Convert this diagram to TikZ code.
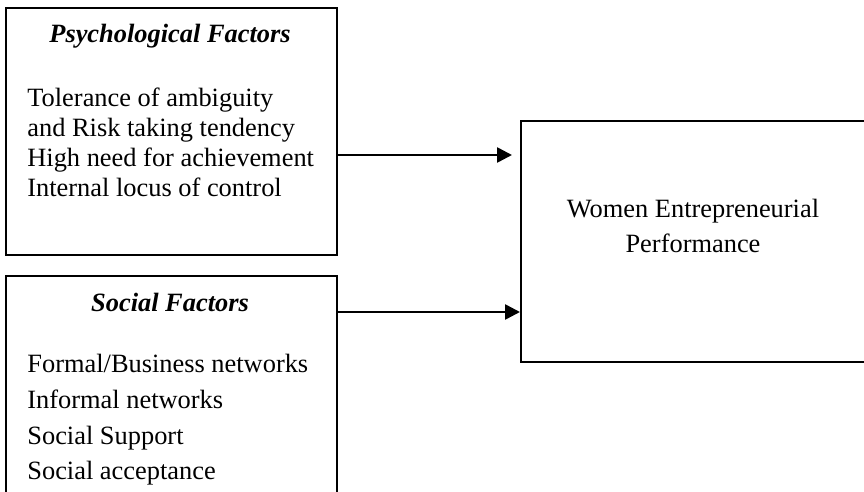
\documentclass[tikz,border=0pt]{standalone}
\usepackage{fontspec}
\setmainfont{Liberation Serif}
\usetikzlibrary{arrows.meta}
\tikzset{
  box/.style={draw, line width=1pt, inner sep=0pt, fill=none},
  arr/.style={line width=1.3pt, -{Triangle[length=7.5pt,width=7.5pt]}},
  txt/.style={inner sep=0pt, font=\fontsize{13.2}{15.15}\selectfont, align=left},
  txtwide/.style={inner sep=0pt, font=\fontsize{13.2}{17.9}\selectfont, align=left},
  ttl/.style={inner sep=0pt, font=\fontsize{13.2}{15}\selectfont\bfseries\itshape},
}
\begin{document}
\begin{tikzpicture}[x=0.5pt,y=-0.5pt]
\clip (0,0) rectangle (864,492);
\fill[white] (0,0) rectangle (864,492);
\node[box, minimum width=165.5pt, minimum height=123.5pt] (psy) at (171.5,131.5) {};
\node[box, minimum width=165.5pt, minimum height=127pt] (soc) at (171.5,403) {};
\node[box, minimum width=189.5pt, minimum height=120.5pt] (perf) at (710.5,241.5) {};
\node[ttl, anchor=base] (psyt) at (170,43) {Psychological Factors};
\node[txt, anchor=base west] (psyb) at (27,197) {Tolerance of ambiguity\\and Risk taking tendency\\High need for achievement\\Internal locus of control};
\node[ttl, anchor=base] (soct) at (170,312) {Social Factors};
\node[txtwide, anchor=base west] (socb) at (27,480) {Formal/Business networks\\Informal networks\\Social Support\\Social acceptance};
\node[txtwide, anchor=base, align=center] (perft) at (693,253) {Women Entrepreneurial\\Performance};
\coordinate (a1) at (512,155);
\coordinate (a2) at (0,312);
\draw[arr] (psy.east |- a1) -- (a1);
\draw[arr] (soc.east |- a2) -- (perf.west |- a2);
\end{tikzpicture}
\end{document}
